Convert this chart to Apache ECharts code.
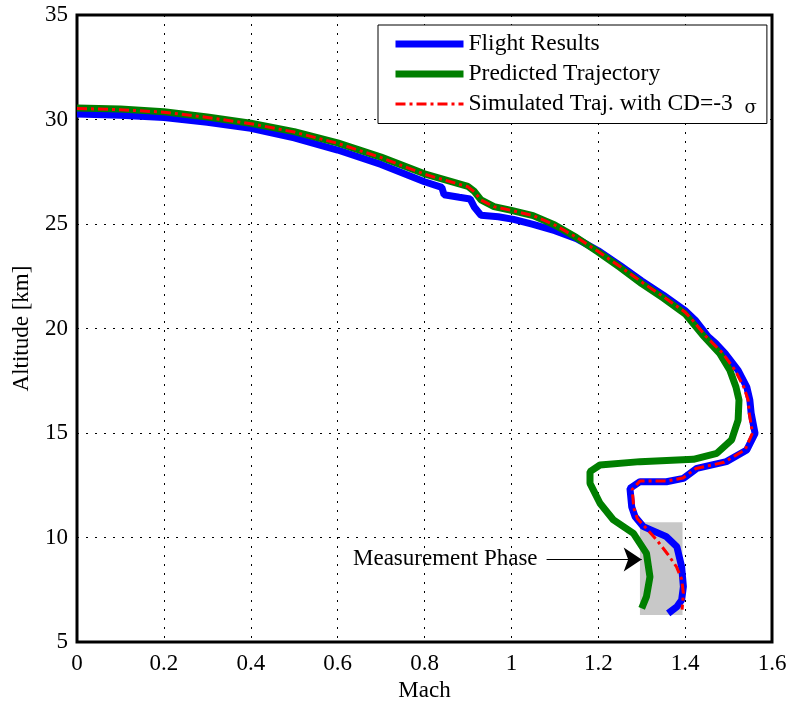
<!DOCTYPE html>
<html>
<head>
<meta charset="utf-8">
<script src="https://cdn.jsdelivr.net/npm/echarts@6/dist/echarts.min.js"></script>
<style>
  html, body { margin: 0; padding: 0; background: #fff; }
  #main { width: 791px; height: 708px; }
</style>
</head>
<body>
<div id="main"></div>
<script>
// Mach / altitude [km] pairs
const flightResults = [
  [0, 30.26], [0.1, 30.2], [0.2, 30.1], [0.3, 29.87], [0.4, 29.58], [0.5, 29.12],
  [0.6, 28.54], [0.7, 27.85], [0.8, 27.02], [0.84, 26.75], [0.845, 26.4], [0.88, 26.28],
  [0.905, 26.2], [0.915, 25.8], [0.93, 25.42], [0.97, 25.35], [1.005, 25.22], [1.05, 24.98],
  [1.1, 24.68], [1.15, 24.3], [1.2, 23.72], [1.25, 23.02], [1.3, 22.28], [1.35, 21.6],
  [1.4, 20.86], [1.423, 20.41], [1.453, 19.61], [1.47, 19.3], [1.492, 18.81], [1.522, 18.0],
  [1.542, 17.2], [1.549, 16.58], [1.552, 15.95], [1.561, 14.98], [1.542, 14.19], [1.495, 13.63],
  [1.427, 13.31], [1.396, 12.83], [1.357, 12.67], [1.296, 12.67], [1.273, 12.35], [1.277, 11.47],
  [1.285, 10.99], [1.304, 10.52], [1.357, 10.04], [1.381, 9.56], [1.392, 8.6], [1.396, 7.65],
  [1.392, 7.01], [1.381, 6.69], [1.361, 6.37]
];
const predictedTraj = [
  [0, 30.55], [0.1, 30.5], [0.2, 30.37], [0.3, 30.12], [0.4, 29.82], [0.5, 29.42],
  [0.6, 28.88], [0.7, 28.2], [0.8, 27.4], [0.85, 27.1], [0.9, 26.8], [0.915, 26.55],
  [0.93, 26.15], [0.96, 25.83], [1.0, 25.65], [1.05, 25.4], [1.1, 24.95], [1.15, 24.35],
  [1.2, 23.65], [1.25, 22.92], [1.3, 22.15], [1.35, 21.45], [1.4, 20.7], [1.44, 19.7],
  [1.48, 18.8], [1.503, 18.0], [1.517, 17.2], [1.524, 16.58], [1.522, 15.62], [1.507, 14.67],
  [1.473, 14.03], [1.419, 13.74], [1.296, 13.63], [1.204, 13.47], [1.181, 13.15], [1.181, 12.59],
  [1.204, 11.64], [1.235, 10.84], [1.281, 10.2], [1.311, 9.24], [1.319, 8.12], [1.311, 7.17],
  [1.3, 6.61]
];
const simulatedTraj = [
  [0, 30.53], [0.1, 30.47], [0.2, 30.35], [0.3, 30.1], [0.4, 29.8], [0.5, 29.4],
  [0.6, 28.86], [0.7, 28.18], [0.8, 27.38], [0.85, 27.08], [0.9, 26.78], [0.915, 26.53],
  [0.93, 26.15], [0.96, 25.83], [1.0, 25.65], [1.05, 25.4], [1.1, 24.95], [1.15, 24.36],
  [1.2, 23.68], [1.25, 22.97], [1.3, 22.22], [1.35, 21.52], [1.4, 20.78], [1.415, 20.45],
  [1.448, 19.62], [1.487, 18.81], [1.515, 18.0], [1.535, 17.2], [1.545, 16.58], [1.548, 15.9],
  [1.555, 15.0], [1.538, 14.2], [1.49, 13.6], [1.425, 13.3], [1.395, 12.85], [1.357, 12.7],
  [1.296, 12.7], [1.278, 12.3], [1.282, 11.4], [1.29, 10.9], [1.31, 10.45], [1.334, 9.9],
  [1.36, 9.2], [1.38, 8.6], [1.392, 8.0], [1.396, 7.33], [1.393, 6.55]
];
const seriesNames = ['Flight Results', 'Predicted Trajectory', 'Simulated Traj. with CD=-3 σ'];
// measurement phase box and arrow (Mach, km)
const phaseBox = [[1.296, 10.73], [1.394, 6.29]];
const phaseArrow = [[1.081, 8.95], [1.3, 8.95]];

const serif = 'Liberation Serif';
var chartDom = document.getElementById('main');
var myChart = echarts.init(chartDom);
var option;

const dotted = { color: '#000', width: 1, type: [2, 7] };
const hideDot = { opacity: 0 };

option = {
  animation: false,
  textStyle: { fontFamily: serif },
  grid: {
    left: 77, top: 15, right: 19, bottom: 66,
    show: true, borderColor: '#000', borderWidth: 3, backgroundColor: '#fff'
  },
  legend: {
    left: 378, top: 25,
    orient: 'vertical',
    backgroundColor: '#fff',
    borderColor: '#000', borderWidth: 1,
    padding: [7, 10, 6, 14],
    itemGap: 6, itemWidth: 68, itemHeight: 14,
    textStyle: {
      fontFamily: serif, fontSize: 23.5, color: '#000',
      rich: { s: { fontFamily: 'DejaVu Serif', fontSize: 18, padding: [9, 0, 0, 0], color: '#000' } }
    },
    formatter: function (name) {
      return name.indexOf('σ') >= 0 ? name.replace(' σ', '  {s|σ}') : name;
    },
    data: [
      { name: seriesNames[0], lineStyle: { width: 7 }, itemStyle: hideDot },
      { name: seriesNames[1], lineStyle: { width: 7 }, itemStyle: hideDot },
      { name: seriesNames[2], lineStyle: { width: 3 }, itemStyle: hideDot }
    ]
  },
  xAxis: {
    type: 'value', min: 0, max: 1.6, interval: 0.2,
    name: 'Mach', nameLocation: 'middle', nameGap: 36,
    nameTextStyle: { fontFamily: serif, fontSize: 23, color: '#000' },
    axisLine: { show: false },
    axisTick: { show: false },
    axisLabel: { fontFamily: serif, fontSize: 23, color: '#000', margin: 10 },
    splitLine: { show: true, lineStyle: dotted }
  },
  yAxis: {
    type: 'value', min: 5, max: 35, interval: 5,
    name: 'Altitude [km]', nameLocation: 'middle', nameGap: 44,
    nameTextStyle: { fontFamily: serif, fontSize: 23, color: '#000' },
    axisLine: { show: false },
    axisTick: { show: false },
    axisLabel: { fontFamily: serif, fontSize: 23, color: '#000', margin: 9 },
    splitLine: { show: true, lineStyle: dotted }
  },
  series: [
    {
      name: 'phase', type: 'line', data: [], z: 1, silent: true,
      markArea: {
        silent: true,
        itemStyle: { color: '#c8c8c8', opacity: 1 },
        data: [[{ coord: phaseBox[0] }, { coord: phaseBox[1] }]]
      }
    },
    {
      name: 'arrow', type: 'line', data: [], z: 6, silent: true,
      markLine: {
        silent: true,
        symbol: ['none', 'arrow'],
        symbolSize: 18,
        lineStyle: { color: '#000', width: 1.2, type: 'solid' },
        itemStyle: { color: '#000' },
        label: {
          show: true, position: 'start', distance: 9,
          formatter: 'Measurement Phase',
          fontFamily: serif, fontSize: 23, color: '#000'
        },
        data: [[{ coord: phaseArrow[0] }, { coord: phaseArrow[1] }]]
      }
    },
    {
      name: seriesNames[0], type: 'line', data: flightResults, z: 3,
      symbol: 'none', color: '#0000ff',
      lineStyle: { color: '#0000ff', width: 7 }
    },
    {
      name: seriesNames[1], type: 'line', data: predictedTraj, z: 4,
      symbol: 'none', color: '#007f00',
      lineStyle: { color: '#007f00', width: 7 }
    },
    {
      name: seriesNames[2], type: 'line', data: simulatedTraj, z: 5,
      symbol: 'none', color: '#ff0000',
      lineStyle: { color: '#ff0000', width: 3, type: [10, 4, 3, 4] }
    }
  ]
};

option && myChart.setOption(option);
</script>
</body>
</html>
